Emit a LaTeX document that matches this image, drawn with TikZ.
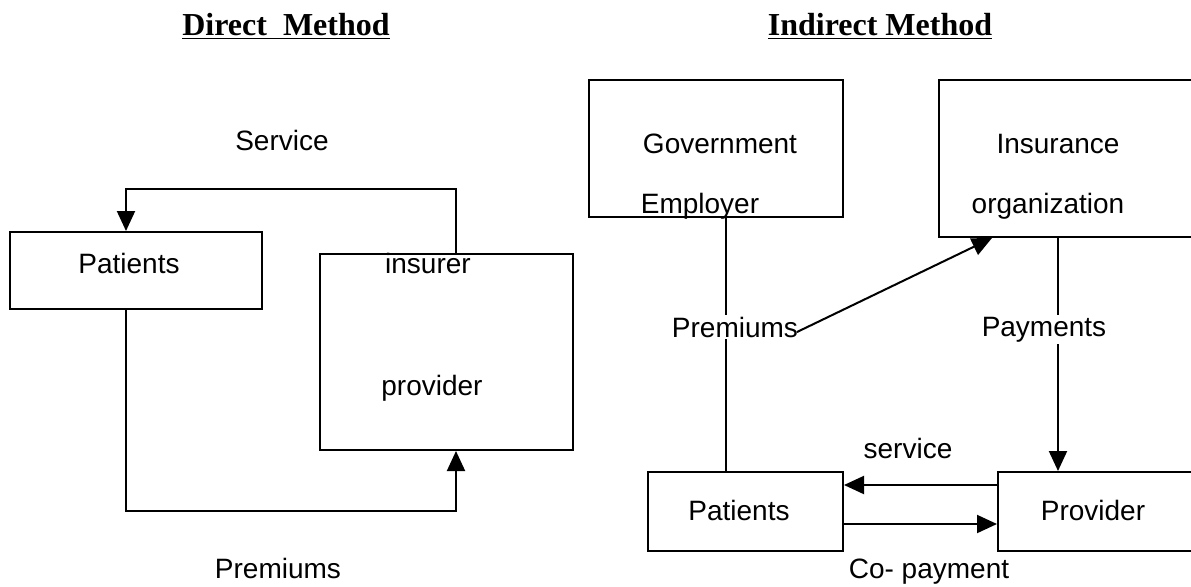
\documentclass[tikz,border=0pt]{standalone}
\usepackage{fontspec}
\setmainfont{Liberation Sans}
\newfontfamily\titlefont{Liberation Serif}
\usetikzlibrary{arrows.meta, positioning}

\begin{document}
\begin{tikzpicture}[x=0.5pt, y=-0.5pt, line width=1pt, font=\fontsize{14}{16}\selectfont,
  box/.style={draw, rectangle, inner sep=0pt},
  arr/.style={-{Triangle[length=10pt, width=9pt]}},
  ttl/.style={anchor=base, font=\titlefont\bfseries\fontsize{16}{18}\selectfont},
  lbl/.style={anchor=base, inner sep=1pt},
  cut/.style={anchor=base, inner sep=1pt, fill=white}]
  \useasboundingbox (0,0) rectangle (1191,586);
  \node[ttl] (dttl) at (286,35) {\underline{Direct\ \ Method}};
  \node[ttl] (ittl) at (880,35) {\underline{Indirect Method}};
  \node[box, minimum width=126pt, minimum height=38.5pt] (pat1) at (136,270.5) {};
  \node[box, minimum width=126.5pt, minimum height=98pt] (insprov) at (446.5,352) {};
  \node[lbl] (pattxt1) at (129,273) {Patients};
  \node[lbl] (instxt) at (428,273) {insurer};
  \node[lbl] (provtxt1) at (432,395) {provider};
  \draw[arr] ([xshift=4.75pt]insprov.north) -- ++(0,-64) -| ([xshift=-5pt]pat1.north);
  \draw[arr] ([xshift=-5pt]pat1.south) -- ++(0,201) -| ([xshift=4.75pt]insprov.south);
  \node[lbl] (svc1) at (282,150) {Service};
  \node[lbl] (prem1) at (278,578) {Premiums};
  \node[box, minimum width=127pt, minimum height=68.5pt] (gov) at (716,148.5) {};
  \node[box, minimum width=130.5pt, minimum height=78.5pt] (insorg) at (1069.5,158.5) {};
  \node[box, minimum width=97.5pt, minimum height=39.5pt] (pat2) at (745.5,511.5) {};
  \node[box, minimum width=101pt, minimum height=39.5pt] (prov) at (1099,511.5) {};
  \node[lbl] (govtxt) at (720,153) {Government};
  \node[lbl] (emptxt) at (700,213) {Employer};
  \node[lbl] (instxt2) at (1058,153) {Insurance};
  \node[lbl] (orgtxt) at (1048,213) {organization};
  \node[lbl] (pattxt2) at (739,520) {Patients};
  \node[lbl] (provtxt2) at (1093,520) {Provider};
  \draw ([xshift=5pt]gov.south) -- ([xshift=5pt]gov.south |- pat2.north);
  \draw[arr] ([xshift=-5.75pt]insorg.south) -- ([xshift=-5.75pt]insorg.south |- prov.north);
  \node[cut] (prem2) at (735,337) {Premiums};
  \node[cut] (pay) at (1044,336) {Payments};
  \draw[arr] ([xshift=-2pt, yshift=-2.5pt]prem2.east) -- ([xshift=-38.75pt]insorg.south);
  \draw[arr] ([yshift=13.25pt]prov.west) -- ([yshift=13.25pt]prov.west -| pat2.east);
  \draw[arr] ([yshift=-6.25pt]pat2.east) -- ([yshift=-6.25pt]pat2.east -| prov.west);
  \node[lbl] (svc2) at (908,458) {service};
  \node[lbl] (copay) at (929,578) {Co- payment};
\end{tikzpicture}
\end{document}
